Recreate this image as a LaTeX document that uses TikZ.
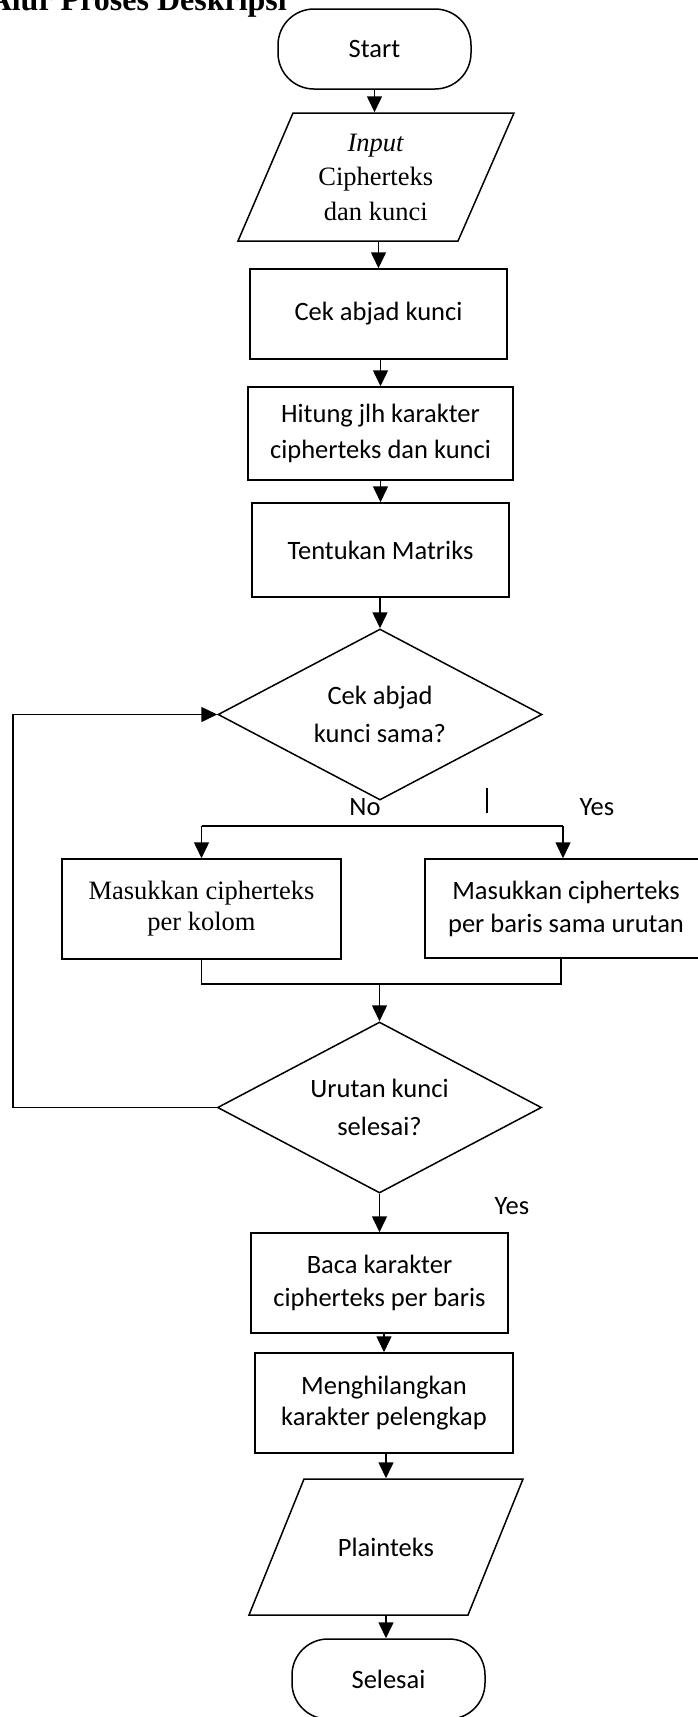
\documentclass[tikz,border=0pt]{standalone}
\usepackage{fontspec}
\setmainfont{Liberation Serif}
\setsansfont{Carlito}
\usetikzlibrary{shapes.geometric,arrows.meta,calc}
\begin{document}
\begin{tikzpicture}[x=1pt,y=-1pt,
  line width=1.5pt,
  sf/.style={font=\sffamily\fontsize{26.5}{33}\selectfont, align=center},
  rm/.style={font=\rmfamily\fontsize{26.5}{31}\selectfont, align=center},
  proc/.style={draw, rectangle, inner sep=0pt, sf},
  term/.style={draw, rectangle, rounded corners=36pt, minimum width=193pt, minimum height=80pt, inner sep=0pt, sf},
  dec/.style={draw, diamond, aspect=1.9, inner sep=0pt, minimum width=324pt, minimum height=171pt, sf, font=\sffamily\fontsize{26.5}{38}\selectfont},
  arr/.style={-{Triangle[length=16pt,width=15pt]}},
  lbl/.style={sf, inner sep=0pt}
]
\useasboundingbox (0,0) rectangle (697,1717);

% title
\node[anchor=base west, inner sep=0pt, font=\rmfamily\bfseries\fontsize{32}{38}\selectfont] (title) at (-12,10) {Alur Proses Deskripsi};

% nodes
\node[term] (start) at (374.5,49) {Start};
\node[rm, font=\rmfamily\fontsize{26.5}{34.5}\selectfont, minimum width=180pt, minimum height=128pt, inner sep=0pt] (in) at (375.75,177) {\textit{Input}\\Cipherteks\\dan kunci};
\draw (293,113) -- (514,113) -- (458,241) -- (238,241) -- cycle;

\node[proc, minimum width=257pt, minimum height=90pt] (cek) at (378.5,314) {Cek abjad kunci};
\node[proc, font=\sffamily\fontsize{26.5}{36}\selectfont, minimum width=265pt, minimum height=93pt] (hit) at (380.5,433.5) {Hitung jlh karakter\\cipherteks dan kunci};
\node[proc, minimum width=257pt, minimum height=94pt] (ten) at (380.5,550) {Tentukan Matriks};
\node[dec] (d1) at (380,714.5) {Cek abjad\\kunci sama?};
\node[proc, rm, minimum width=279pt, minimum height=100pt] (L) at (201.5,909) {Masukkan cipherteks\\per kolom};
\node[proc, minimum width=282pt, minimum height=99pt] (R) at (566,908.5) {Masukkan cipherteks\\per baris sama urutan};
\node[dec] (d2) at (379.5,1107.5) {Urutan kunci\\selesai?};
\node[proc, minimum width=257pt, minimum height=100pt] (baca) at (379.5,1283) {Baca karakter\\cipherteks per baris};
\node[proc, font=\sffamily\fontsize{26.5}{31}\selectfont, minimum width=258pt, minimum height=100pt] (meng) at (384,1403) {Menghilangkan\\karakter pelengkap};
\node[sf, minimum width=180pt, minimum height=136pt, inner sep=0pt] (pt) at (386,1547) {Plainteks};
\draw (304,1479) -- (523,1479) -- (468,1615) -- (249,1615) -- cycle;
\node[term] (end) at (388.5,1679) {Selesai};

% labels
\node[lbl] (no) at (365,807) {No};
\node[lbl] (yes1) at (597,807) {Yes};
\node[lbl] (yes2) at (512,1206) {Yes};

% connectors
\draw[arr] (start.south) -- (start.south |- in.north);
\draw[arr] (cek.north |- in.south) -- (cek.north);
\draw[arr] (hit.north |- cek.south) -- (hit.north);
\draw[arr] (ten.north |- hit.south) -- (ten.north);
\draw[arr] (d1.north |- ten.south) -- (d1.north);

\coordinate (bl) at (201.5,826);
\coordinate (br) at (563,826);
\draw (bl) -- (br);
\draw[arr] (bl) -- (L.north);
\draw[arr] (br) -- (br |- R.north);

\coordinate (t1) at (487,788);
\coordinate (t2) at (487,813);
\draw[line width=1.2pt] (t1) -- (t2);

\coordinate (ml) at (201.5,984);
\coordinate (mr) at (561,984);
\draw (L.south) -- (ml) -- (mr) -- (mr |- R.south);
\draw[arr] (d2.north |- ml) -- (d2.north);

\coordinate (lp1) at (13,1107.5);
\coordinate (lp2) at (13,714.5);
\draw[arr] (d2.west) -- (lp1) -- (lp2) -- (d1.west);

\draw[arr] (d2.south) -- (d2.south |- baca.north);
\draw[arr] (meng.north |- baca.south) -- (meng.north);
\draw[arr] (pt.north |- meng.south) -- (pt.north);
\draw[arr] (pt.south) -- (pt.south |- end.north);
\end{tikzpicture}
\end{document}
